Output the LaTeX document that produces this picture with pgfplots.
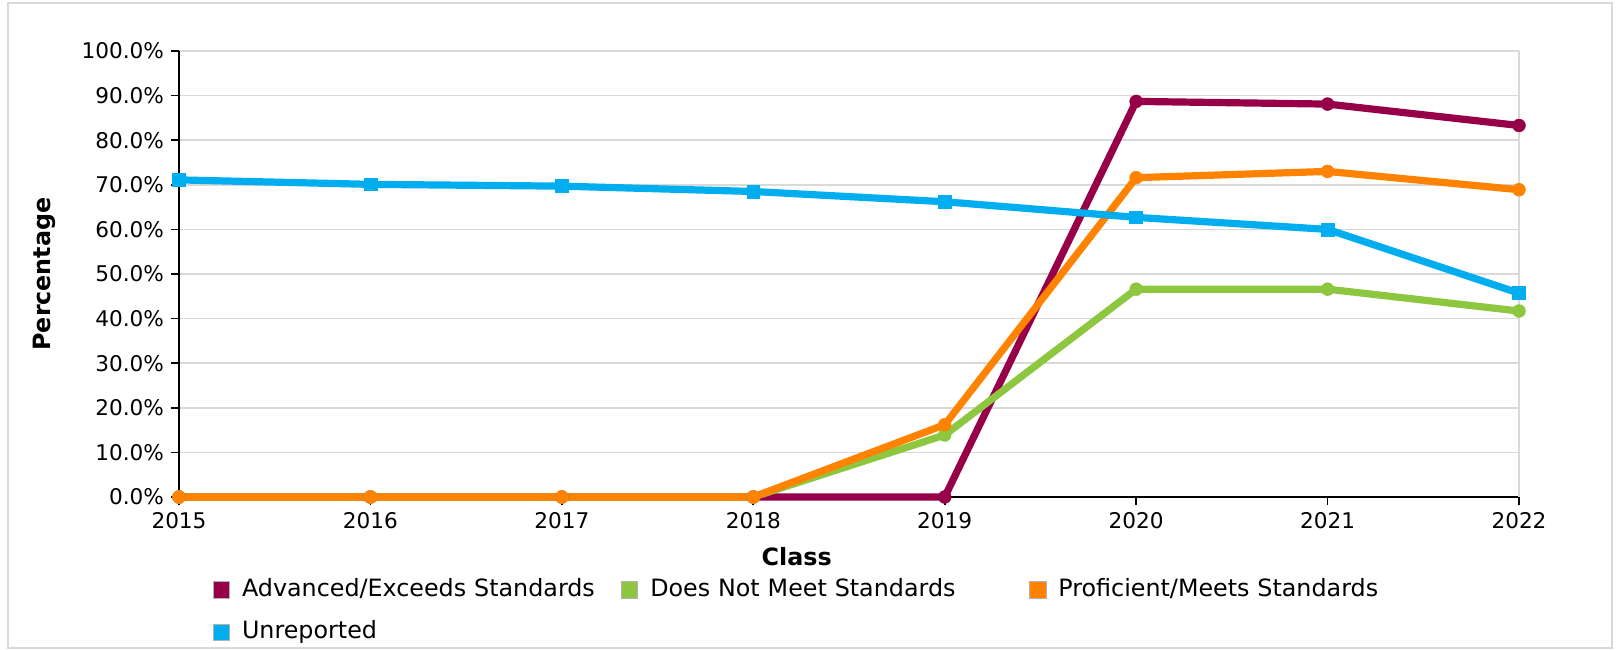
\documentclass[border=0pt]{standalone}
\usepackage{pgfplots}
\pgfplotsset{compat=1.18}
\usepackage{fontspec}
\setmainfont{DejaVu Sans}

\definecolor{advc}{HTML}{970048}
\definecolor{notc}{HTML}{8DC63F}
\definecolor{proc}{HTML}{FF8200}
\definecolor{unrc}{HTML}{00AEEF}
\definecolor{gridc}{HTML}{D9D9D9}

\begin{document}
\begin{tikzpicture}
\path[use as bounding box] (0,0) rectangle (810.5pt,324.5pt);
\draw[color=gridc, line width=0.8pt] (4pt,0.5pt) rectangle (806pt,323pt);
\begin{axis}[
  at={(89.5pt,76pt)}, anchor=south west,
  scale only axis, width=670pt, height=223pt,
  xmin=2015, xmax=2022, ymin=0, ymax=100,
  xtick={2015,2016,...,2022},
  ytick={0,10,...,100},
  axis x line*=bottom, axis y line*=left,
  axis line style={black, line width=0.9pt},
  tick align=outside, major tick length=4pt,
  tick style={black, line width=0.8pt},
  ymajorgrids, grid style={gridc, line width=0.8pt},
  clip=false,
  /pgf/number format/assume math mode=true,
  tick label style={font=\fontsize{10.8}{13}\selectfont},
  x tick label style={/pgf/number format/1000 sep={}},
  yticklabel={\pgfmathprintnumber[fixed, fixed zerofill, precision=1]{\tick}\%},
  xlabel={Class}, ylabel={Percentage},
  label style={font=\fontsize{11.9}{14}\selectfont\bfseries},
  xlabel style={at={(axis description cs:0.461,-0.133)}, anchor=center},
  ylabel style={at={(axis description cs:-0.1004,0.5)}, anchor=center},
  legend columns=3,
  legend cell align=left,
  legend image code/.code={\filldraw[line width=0.4pt, solid, draw=gray!60] (0pt,-4.2pt) rectangle (8.2pt,4.2pt);},
  legend style={draw=none, fill=none, at={(axis description cs:0.0205,-0.173)}, anchor=north west,
    font=\fontsize{11.9}{14}\selectfont, row sep=9.7pt,
    nodes={inner sep=0pt, text height=9pt, text depth=2.5pt},
    /tikz/every odd column/.append style={column sep=6pt},
    /tikz/every even column/.append style={text width=189.5pt}},
  every axis plot/.append style={line width=3.6pt},
]
\draw[gridc, line width=0.8pt] (rel axis cs:1,0) -- (rel axis cs:1,1);

\addplot[color=advc, mark=*, mark size=3.2pt, mark options={line width=0.3pt}] coordinates {
(2015,0) (2016,0) (2017,0) (2018,0) (2019,0) (2020,88.7) (2021,88.1) (2022,83.3)
};
\addplot[color=notc, mark=*, mark size=3.2pt, mark options={line width=0.3pt}] coordinates {
(2015,0) (2016,0) (2017,0) (2018,0) (2019,13.9) (2020,46.6) (2021,46.6) (2022,41.7)
};
\addplot[color=proc, mark=*, mark size=3.2pt, mark options={line width=0.3pt}] coordinates {
(2015,0) (2016,0) (2017,0) (2018,0) (2019,16.2) (2020,71.6) (2021,73.0) (2022,68.9)
};
\addplot[color=unrc, mark=square*, mark size=3.2pt, mark options={line width=0.3pt}] coordinates {
(2015,71.1) (2016,70.1) (2017,69.7) (2018,68.5) (2019,66.2) (2020,62.7) (2021,60.0) (2022,45.7)
};
\legend{Advanced/Exceeds Standards, Does Not Meet Standards, Proficient/Meets Standards, Unreported}
\end{axis}
\end{tikzpicture}
\end{document}
